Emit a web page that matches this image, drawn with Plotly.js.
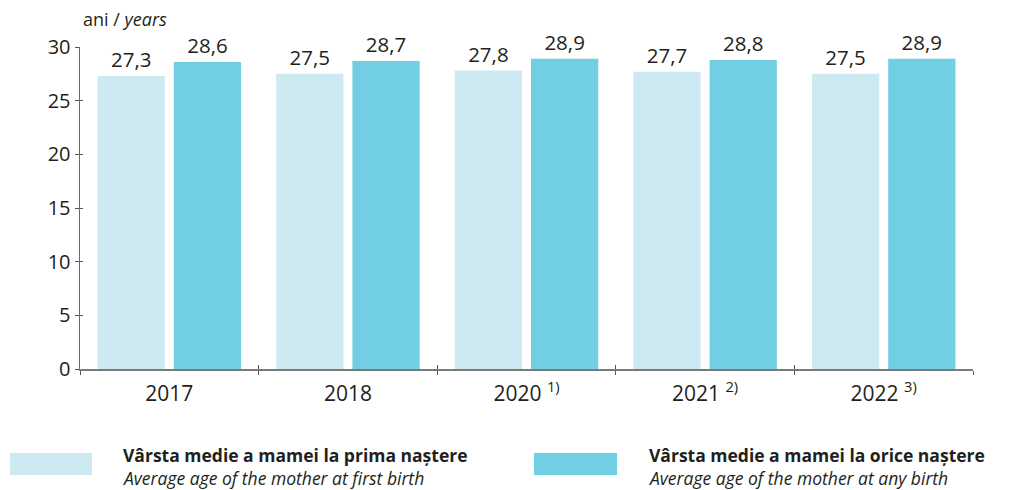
<!DOCTYPE html>
<html>
<head>
<meta charset="utf-8">
<script src="https://cdn.plot.ly/plotly-3.0.1.min.js"></script>
<style>html,body{margin:0;padding:0;background:#fff;}#chart{width:1009px;height:490px;}</style>
</head>
<body>
<div id="chart"></div>
<script>
const categories = ["2017", "2018", "2020 <sup>1)</sup>", "2021 <sup>2)</sup>", "2022 <sup>3)</sup>"];
const firstBirth = [27.3, 27.5, 27.8, 27.7, 27.5];
const anyBirth = [28.6, 28.7, 28.9, 28.8, 28.9];
const seriesNamesRo = ["Vârsta medie a mamei la prima naștere", "Vârsta medie a mamei la orice naștere"];
const seriesNamesEn = ["Average age of the mother at first birth", "Average age of the mother at any birth"];
const colors = ["#cdeaf3", "#72cfe3"];

const W = 1009, H = 490;
const M = {l: 80, r: 36, t: 47, b: 121};
const pw = W - M.l - M.r, ph = H - M.t - M.b;
const px = x => (x - M.l) / pw;
const py = y => (H - M.b - y) / ph;

const FONT = "Open Sans, Noto Sans, sans-serif";
const TXT = "#231f20";

const traces = [firstBirth, anyBirth].map((vals, i) => ({
  type: "bar",
  x: categories,
  y: vals,
  name: seriesNamesRo[i],
  marker: {color: colors[i]},
  text: vals,
  texttemplate: "%{y:.1f}",
  textposition: "outside",
  textfont: {family: FONT, size: 20.5, color: TXT},
  cliponaxis: false,
  hoverinfo: "skip"
}));
// invisible trace on overlay axes, only to draw the inner half of the crossing ticks
traces.push({type: "scatter", mode: "none", x: categories, y: firstBirth, xaxis: "x2", yaxis: "y2", hoverinfo: "skip", showlegend: false});

const shapes = [];
const annotations = [{
  xref: "paper", yref: "paper", x: px(81), y: py(19), xanchor: "left", yanchor: "middle",
  text: "ani / <i>years</i>", showarrow: false, font: {family: FONT, size: 18, color: TXT}
}];
const legendX = [[10, 92, 121], [534, 617, 647]];
legendX.forEach((lx, i) => {
  shapes.push({type: "rect", xref: "paper", yref: "paper",
    x0: px(lx[0]), x1: px(lx[1]), y0: py(453), y1: py(475),
    fillcolor: colors[i], line: {width: 0}});
  annotations.push({xref: "paper", yref: "paper", x: px(lx[2]), y: py(455), xanchor: "left", yanchor: "middle",
    text: "<b>" + seriesNamesRo[i] + "</b>", showarrow: false, font: {family: FONT, size: 17.5, color: TXT}});
  annotations.push({xref: "paper", yref: "paper", x: px(lx[2]), y: py(478), xanchor: "left", yanchor: "middle",
    text: "<i>" + seriesNamesEn[i] + "</i>", showarrow: false, font: {family: FONT, size: 17.5, color: TXT}});
});

const axisCommon = {showgrid: false, zeroline: false, fixedrange: true};
const layout = {
  width: W, height: H,
  margin: M,
  paper_bgcolor: "#fff", plot_bgcolor: "rgba(0,0,0,0)",
  separators: ",.",
  showlegend: false,
  barmode: "group",
  bargap: 0.146,
  bargroupgap: 0.118,
  font: {family: FONT, color: TXT},
  xaxis: Object.assign({
    type: "category", range: [-0.5, 4.5],
    showline: true, linecolor: "#7a7a7a", linewidth: 1.5,
    ticks: "outside", tickson: "boundaries", ticklen: 4, tickcolor: "#555", tickwidth: 1,
    ticklabelstandoff: 5,
    tickfont: {family: FONT, size: 21, color: TXT}
  }, axisCommon),
  yaxis: Object.assign({
    range: [0, 30], dtick: 5, tick0: 0,
    showline: true, linecolor: "#666", linewidth: 1.5,
    ticks: "outside", ticklen: 4, tickcolor: "#555", tickwidth: 1,
    tickfont: {family: FONT, size: 20, color: TXT}
  }, axisCommon),
  xaxis2: Object.assign({
    type: "category", range: [-0.5, 4.5], overlaying: "x", anchor: "y2", side: "bottom",
    showline: false, ticks: "inside", tickson: "boundaries", ticklen: 4, tickcolor: "#555", tickwidth: 1,
    showticklabels: false
  }, axisCommon),
  yaxis2: Object.assign({
    range: [0, 30], dtick: 5, tick0: 0, overlaying: "y", anchor: "x2", side: "left",
    showline: false, ticks: "inside", ticklen: 3, tickcolor: "#555", tickwidth: 1,
    showticklabels: false
  }, axisCommon),
  shapes: shapes,
  annotations: annotations
};

Plotly.newPlot("chart", traces, layout, {displayModeBar: false, staticPlot: true});
</script>
</body>
</html>
